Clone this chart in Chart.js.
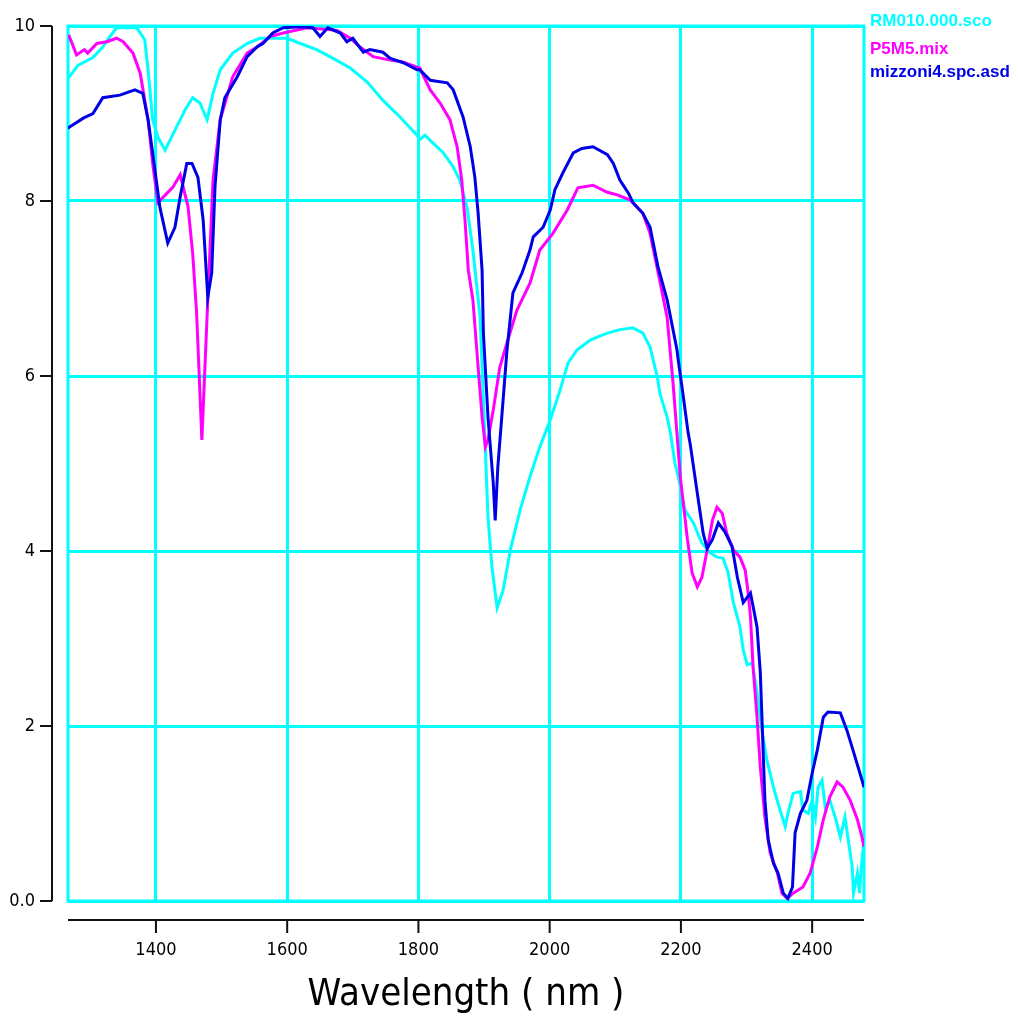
<!DOCTYPE html>
<html><head><meta charset="utf-8">
<script src="https://cdn.jsdelivr.net/npm/chart.js@4.4.1/dist/chart.umd.min.js"></script>
<style>html,body{margin:0;padding:0;background:#fff;overflow:hidden}</style>
</head><body>
<canvas id="c" width="1018" height="1023"></canvas>
<script>
// ---- data ----
const seriesNames = ['RM010.000.sco', 'P5M5.mix', 'mizzoni4.spc.asd'];
const xTicks = [1400, 1600, 1800, 2000, 2200, 2400];
const yTicks = [0, 2, 4, 6, 8, 10];

const cyanWl = [1266,1281,1304,1318,1330,1340,1371,1383,1388,1395,1403,1414,1429,1445,1456,1467,1478,1487,1498,1517,1539,1558,1600,1620,1645,1670,1696,1722,1746,1772,1798,1802,1810,1838,1853,1863,1874,1883,1894,1902,1906,1912,1920,1929,1940,1955,1970,1985,2001,2016,2028,2042,2062,2074,2088,2107,2127,2142,2153,2164,2168,2179,2184,2191,2196,2206,2219,2232,2245,2255,2264,2272,2280,2290,2295,2301,2309,2316,2324,2331,2341,2351,2359,2363,2371,2382,2386,2394,2400,2405,2409,2415,2420,2427,2435,2443,2450,2455,2461,2463,2469,2472,2476,2479];
const cyanVal = [9.40,9.55,9.64,9.75,9.88,9.98,9.98,9.84,9.50,8.93,8.73,8.58,8.81,9.05,9.18,9.12,8.93,9.23,9.50,9.69,9.80,9.86,9.86,9.80,9.73,9.63,9.52,9.36,9.15,8.96,8.75,8.70,8.75,8.55,8.39,8.24,7.93,7.44,6.67,5.15,4.39,3.82,3.35,3.55,4.01,4.47,4.85,5.19,5.50,5.84,6.15,6.30,6.41,6.45,6.49,6.53,6.55,6.49,6.33,5.99,5.80,5.53,5.35,5.00,4.85,4.47,4.32,4.09,3.98,3.93,3.92,3.75,3.41,3.13,2.87,2.70,2.72,2.38,1.92,1.61,1.30,1.04,0.85,1.00,1.23,1.25,1.04,1.00,1.15,0.96,1.30,1.38,1.07,1.15,0.96,0.73,0.96,0.70,0.39,0.09,0.32,0.09,0.47,0.70];

const magentaWl = [1267,1279,1291,1296,1310,1325,1340,1350,1365,1376,1388,1395,1403,1417,1426,1437,1449,1456,1462,1470,1479,1487,1498,1517,1539,1554,1574,1594,1630,1676,1696,1711,1731,1757,1776,1798,1802,1818,1833,1848,1859,1866,1871,1876,1883,1891,1897,1902,1906,1914,1924,1935,1950,1970,1985,2005,2027,2043,2066,2088,2103,2123,2142,2153,2164,2179,2188,2196,2199,2210,2217,2225,2232,2240,2248,2255,2263,2270,2280,2290,2298,2302,2306,2310,2316,2321,2328,2336,2347,2354,2362,2371,2386,2397,2408,2417,2427,2438,2447,2458,2469,2476,2479];
const magentaVal = [9.90,9.67,9.73,9.69,9.80,9.82,9.86,9.82,9.69,9.46,8.93,8.43,7.98,8.09,8.16,8.30,7.93,7.40,6.72,5.27,6.87,8.24,8.93,9.42,9.69,9.76,9.88,9.92,9.98,9.95,9.86,9.76,9.65,9.61,9.59,9.53,9.52,9.27,9.12,8.93,8.62,8.24,7.78,7.21,6.87,6.10,5.53,5.19,5.27,5.61,6.10,6.38,6.75,7.06,7.44,7.63,7.90,8.15,8.18,8.10,8.07,8.01,7.86,7.63,7.23,6.67,5.92,5.15,4.85,4.13,3.75,3.59,3.70,4.01,4.35,4.50,4.43,4.20,4.01,3.93,3.78,3.55,3.25,2.67,2.10,1.53,0.96,0.55,0.32,0.09,0.03,0.09,0.16,0.32,0.62,0.93,1.19,1.36,1.30,1.15,0.93,0.73,0.62];

const blueWl = [1266,1269,1290,1304,1319,1345,1368,1380,1388,1395,1406,1418,1429,1437,1447,1455,1464,1472,1479,1485,1490,1498,1505,1524,1539,1554,1563,1578,1594,1620,1639,1650,1662,1681,1691,1700,1716,1726,1746,1757,1777,1798,1802,1818,1844,1853,1868,1879,1886,1891,1897,1899,1906,1914,1917,1921,1927,1935,1944,1958,1970,1975,1990,2001,2008,2020,2036,2049,2066,2088,2097,2107,2120,2127,2142,2153,2165,2179,2194,2196,2203,2211,2214,2225,2234,2240,2248,2257,2267,2278,2286,2295,2306,2313,2316,2321,2324,2328,2333,2341,2348,2356,2363,2370,2374,2382,2392,2400,2408,2417,2424,2443,2453,2462,2476,2479];
const blueVal = [8.83,8.85,8.95,9.00,9.18,9.21,9.27,9.23,8.93,8.55,7.93,7.52,7.70,8.05,8.43,8.43,8.27,7.78,6.90,7.18,8.16,8.93,9.18,9.42,9.65,9.76,9.80,9.92,9.98,9.99,9.98,9.88,9.98,9.92,9.82,9.86,9.70,9.73,9.70,9.63,9.58,9.50,9.50,9.38,9.35,9.27,8.96,8.62,8.27,7.86,7.21,6.49,5.53,4.78,4.35,4.96,5.53,6.30,6.95,7.18,7.44,7.59,7.70,7.90,8.13,8.32,8.55,8.60,8.62,8.53,8.43,8.24,8.09,7.98,7.86,7.70,7.25,6.87,6.30,6.18,5.80,5.35,5.23,4.66,4.20,4.03,4.13,4.32,4.22,4.05,3.70,3.41,3.52,3.25,3.13,2.61,1.99,1.15,0.70,0.43,0.32,0.09,0.03,0.16,0.78,1.00,1.15,1.46,1.73,2.10,2.16,2.15,1.95,1.73,1.38,1.30];

// ---- styling ----
const CYAN = '#00FFFF', MAGENTA = '#FF00FF', BLUE = '#0000E6';
const FONT = '"DejaVu Sans Condensed", "Liberation Sans", sans-serif';

function pts(wl, v) { return wl.map((w, i) => ({x: w, y: v[i]})); }

const framePlugin = {
  id: 'frame',
  beforeDatasetsDraw(chart) {
    const {ctx, chartArea: a} = chart;
    ctx.save();
    ctx.strokeStyle = CYAN; ctx.lineWidth = 3;
    ctx.strokeRect(a.left, a.top, a.right - a.left, a.bottom - a.top);
    ctx.restore();
  },
  afterDraw(chart) {
    const {ctx, chartArea: a, scales} = chart;
    const xs = scales.x, ys = scales.y;
    ctx.save();
    ctx.strokeStyle = '#111'; ctx.lineWidth = 2;
    // y axis
    const ax = a.left - 16;
    ctx.beginPath();
    ctx.moveTo(ax, ys.getPixelForValue(10)); ctx.lineTo(ax, ys.getPixelForValue(0));
    yTicks.forEach(t => { const p = ys.getPixelForValue(t); ctx.moveTo(ax - 12, p); ctx.lineTo(ax, p); });
    ctx.stroke();
    // x axis
    const ay = a.bottom + 19;
    ctx.beginPath();
    ctx.moveTo(a.left, ay); ctx.lineTo(a.right, ay);
    xTicks.forEach(t => { const p = xs.getPixelForValue(t); ctx.moveTo(p, ay); ctx.lineTo(p, ay + 13); });
    ctx.stroke();
    // legend
    ctx.font = 'bold 17px "Liberation Sans", Arial, sans-serif';
    ctx.textAlign = 'left'; ctx.textBaseline = 'alphabetic';
    const base = [26, 54, 77];
    chart.data.datasets.forEach((d, i) => {
      ctx.fillStyle = d.borderColor;
      ctx.fillText(d.label, a.right + 6, base[i]);
    });
    ctx.restore();
  }
};

new Chart(document.getElementById('c'), {
  type: 'line',
  data: {
    datasets: [
      {label: seriesNames[0], data: pts(cyanWl, cyanVal), borderColor: CYAN, order: 2},
      {label: seriesNames[1], data: pts(magentaWl, magentaVal), borderColor: MAGENTA, order: 1},
      {label: seriesNames[2], data: pts(blueWl, blueVal), borderColor: BLUE, order: 0}
    ]
  },
  options: {
    responsive: false,
    animation: false,
    devicePixelRatio: 1,
    elements: {
      line: {borderWidth: 3, tension: 0, fill: false},
      point: {radius: 0, hoverRadius: 0}
    },
    layout: {padding: {top: 26, right: 154, bottom: 0, left: 0}},
    plugins: {legend: {display: false}, tooltip: {enabled: false}},
    scales: {
      x: {
        type: 'linear', min: 1266, max: 2479,
        afterBuildTicks(s) { s.ticks = xTicks.map(v => ({value: v})); },
        afterFit(s) { s.height = 122; s.paddingLeft = 0; s.paddingRight = 0; },
        ticks: {padding: 39, color: '#000', font: {family: FONT, size: 18}, maxRotation: 0, autoSkip: false,
          callback: v => String(v)},
        grid: {color: CYAN, lineWidth: 3, drawTicks: false},
        border: {display: false},
        title: {display: true, text: 'Wavelength ( nm )', color: '#000', font: {family: FONT, size: 38}, padding: {top: 0, bottom: 5}}
      },
      y: {
        type: 'linear', min: 0, max: 10,
        afterBuildTicks(s) { s.ticks = yTicks.map(v => ({value: v})); },
        afterFit(s) { s.width = 68; s.paddingTop = 0; s.paddingBottom = 0; },
        ticks: {padding: 33, color: '#000', font: {family: FONT, size: 18},
          callback: v => v === 0 ? '0.0' : String(v)},
        grid: {color: CYAN, lineWidth: 3, drawTicks: false},
        border: {display: false}
      }
    }
  },
  plugins: [framePlugin]
});
</script>
</body></html>
